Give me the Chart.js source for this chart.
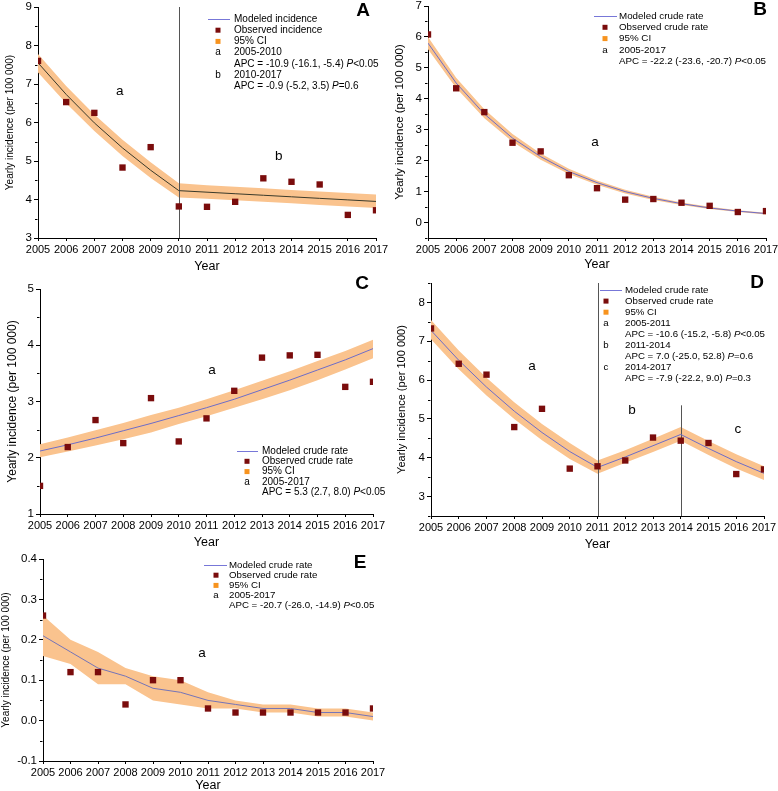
<!DOCTYPE html>
<html><head><meta charset="utf-8">
<script src="https://cdn.jsdelivr.net/npm/chart.js@4.4.1/dist/chart.umd.min.js"></script>
<style>
html,body{margin:0;padding:0;background:#fff;overflow:hidden;width:778px;height:791px;position:relative;}
canvas{position:absolute;}
</style></head><body>
<canvas id="cA"></canvas><canvas id="cB"></canvas><canvas id="cC"></canvas><canvas id="cD"></canvas><canvas id="cE"></canvas>
<script>
const years = [2005,2006,2007,2008,2009,2010,2011,2012,2013,2014,2015,2016,2017];

const obsA = [7.60,6.53,6.25,4.83,5.36,3.82,3.81,3.94,4.55,4.46,4.39,3.60,3.72];
const modA = [7.55,6.73,5.99,5.34,4.76,4.23,4.19,4.15,4.11,4.07,4.03,3.99,3.95];
const upA  = [7.78,6.95,6.21,5.55,4.97,4.42,4.37,4.33,4.29,4.25,4.21,4.17,4.13];
const loA  = [7.30,6.50,5.78,5.13,4.56,4.05,4.02,3.98,3.94,3.90,3.86,3.82,3.78];

const obsB = [6.08,4.34,3.57,2.58,2.30,1.53,1.11,0.74,0.76,0.64,0.54,0.34,0.37];
const modB = [5.80,4.51,3.51,2.73,2.13,1.65,1.29,1.00,0.78,0.61,0.47,0.37,0.29];
const upB  = [6.00,4.68,3.66,2.86,2.23,1.74,1.36,1.06,0.83,0.65,0.51,0.40,0.32];
const loB  = [5.60,4.35,3.37,2.61,2.03,1.57,1.22,0.94,0.73,0.57,0.44,0.34,0.26];

const obsC = [1.50,2.19,2.67,2.26,3.06,2.29,2.70,3.19,3.78,3.82,3.83,3.26,3.35];
const modC = [2.12,2.23,2.35,2.48,2.61,2.75,2.89,3.04,3.21,3.38,3.56,3.74,3.94];
const upC  = [2.24,2.36,2.49,2.62,2.76,2.89,3.04,3.20,3.37,3.54,3.72,3.90,4.10];
const loC  = [2.01,2.11,2.22,2.33,2.45,2.60,2.74,2.89,3.04,3.20,3.38,3.57,3.77];

const obsD = [7.33,6.42,6.14,4.79,5.26,3.72,3.78,3.93,4.52,4.44,4.38,3.58,3.70];
const modD = [7.28,6.51,5.82,5.20,4.65,4.16,3.75,4.02,4.31,4.60,4.24,3.90,3.60];
const upD  = [7.55,6.76,6.06,5.43,4.87,4.38,3.93,4.19,4.49,4.79,4.43,4.09,3.78];
const loD  = [7.05,6.28,5.60,5.00,4.45,3.97,3.59,3.87,4.15,4.44,4.07,3.72,3.43];

const obsE = [0.26,0.12,0.12,0.04,0.10,0.10,0.03,0.02,0.02,0.02,0.02,0.02,0.03];
const modE = [0.21,0.17,0.13,0.11,0.08,0.07,0.05,0.04,0.03,0.03,0.02,0.02,0.01];
const upE  = [0.26,0.20,0.17,0.13,0.11,0.10,0.07,0.05,0.04,0.04,0.03,0.03,0.02];
const loE  = [0.16,0.14,0.09,0.09,0.05,0.04,0.03,0.03,0.02,0.02,0.01,0.01,0.00];

const yTicksA = [3,4,5,6,7,8,9];
const yTicksB = [0,1,2,3,4,5,6,7];
const yTicksC = [1,2,3,4,5];
const yTicksD = [3,4,5,6,7,8];
const yTicksE = [-0.1,0.0,0.1,0.2,0.3,0.4];

const breaksA = [[2010,3,9]];
const breaksD = [[2011,2.5,8.5],[2014,2.5,5.35]];

const segLabelsA = [['a',2007.9,6.8],['b',2013.55,5.13]];
const segLabelsB = [['a',2010.93,2.6]];
const segLabelsC = [['a',2011.2,3.56]];
const segLabelsD = [['a',2008.64,6.36],['b',2012.24,5.23],['c',2016.06,4.74]];
const segLabelsE = [['a',2010.78,0.167]];

const legendIncidence = ['Modeled incidence','Observed incidence','95% CI'];
const legendCrude = ['Modeled crude rate','Observed crude rate','95% CI'];
const apcA = [['a','2005-2010','APC = -10.9 (-16.1, -5.4) ','<0.05'],['b','2010-2017','APC = -0.9 (-5.2, 3.5) ','=0.6']];
const apcB = [['a','2005-2017','APC = -22.2 (-23.6, -20.7) ','<0.05']];
const apcC = [['a','2005-2017','APC = 5.3 (2.7, 8.0) ','<0.05']];
const apcD = [['a','2005-2011','APC = -10.6 (-15.2, -5.8) ','<0.05'],['b','2011-2014','APC = 7.0 (-25.0, 52.8) ','=0.6'],['c','2014-2017','APC = -7.9 (-22.2, 9.0) ','=0.3']];
const apcE = [['a','2005-2017','APC = -20.7 (-26.0, -14.9) ','<0.05']];

const FAM = '"Liberation Sans", Arial, sans-serif';
const BAND = '#fac38e';
const OBS = '#7a0c0c';
const LEGLINE = '#7777d8';
const LEGORANGE = '#f7931e';

const panels = [
  {id:'cA', letter:'A', cv:{x:0,y:0,w:390,h:282}, area:{l:38,t:7,r:376,b:238}, ymin:3, ymax:9, yt:yTicksA, dec:0,
   obs:obsA, mod:modA, up:upA, lo:loA, line:'#3a3a2a', breaks:breaksA, seg:segLabelsA, leg:legendIncidence, apc:apcA,
   lg:{l0:208,l1:230,mx:218,tx:234,y0:19,dy:11.2,fs:10}, yfs:10, ytx:10, xty:267, letterPos:[363,10]},
  {id:'cB', letter:'B', cv:{x:390,y:0,w:388,h:282}, area:{l:428,t:6,r:766,b:238}, ymin:-0.5, ymax:7, yt:yTicksB, dec:0,
   obs:obsB, mod:modB, up:upB, lo:loB, line:'#6d6dc8', breaks:[], seg:segLabelsB, leg:legendCrude, apc:apcB,
   lg:{l0:594,l1:617,mx:605,tx:619,y0:16,dy:11.3,fs:9.8}, yfs:11.5, ytx:400, xty:265, letterPos:[760,9]},
  {id:'cC', letter:'C', cv:{x:0,y:275,w:390,h:282}, area:{l:40,t:289,r:373,b:514}, ymin:1, ymax:5, yt:yTicksC, dec:0,
   obs:obsC, mod:modC, up:upC, lo:loC, line:'#6d6dc8', breaks:[], seg:segLabelsC, leg:legendCrude, apc:apcC,
   lg:{l0:237,l1:258,mx:247,tx:262,y0:451,dy:10.3,fs:10}, yfs:12, ytx:13, xty:543, letterPos:[362,283]},
  {id:'cD', letter:'D', cv:{x:390,y:275,w:388,h:282}, area:{l:431,t:283,r:764,b:516}, ymin:2.5, ymax:8.5, yt:yTicksD, dec:0,
   obs:obsD, mod:modD, up:upD, lo:loD, line:'#6d6dc8', breaks:breaksD, seg:segLabelsD, leg:legendCrude, apc:apcD,
   lg:{l0:600,l1:622,mx:606,tx:625,y0:290,dy:11.1,fs:9.7}, yfs:11, ytx:402, xty:545, letterPos:[757,282]},
  {id:'cE', letter:'E', cv:{x:0,y:545,w:390,h:256}, area:{l:43,t:559,r:373,b:761}, ymin:-0.1, ymax:0.4, yt:yTicksE, dec:1,
   obs:obsE, mod:modE, up:upE, lo:loE, line:'#7474b8', breaks:[], seg:segLabelsE, leg:legendCrude, apc:apcE,
   lg:{l0:204,l1:227,mx:216,tx:229,y0:565,dy:10.2,fs:9.7}, yfs:10, ytx:6, xty:786, letterPos:[360,562]}
];

function drawPanelExtras(chart, p, stage){
  const ctx = chart.ctx, xs = chart.scales.x, ys = chart.scales.y;
  if (stage === 'breaks'){
    ctx.save(); ctx.strokeStyle = '#555'; ctx.lineWidth = 1;
    p.breaks.forEach(b=>{
      const x = Math.round(xs.getPixelForValue(b[0])) + 0.5;
      ctx.beginPath(); ctx.moveTo(x, ys.getPixelForValue(b[2])); ctx.lineTo(x, ys.getPixelForValue(b[1])); ctx.stroke();
    });
    ctx.restore();
    return;
  }
  ctx.save();
  ctx.strokeStyle = '#000'; ctx.lineWidth = 1;
  const step = p.yt[1]-p.yt[0];
  const ax = Math.round(chart.chartArea.left) - 0.5;
  for (let i=0;i<p.yt.length+1;i++){
    const v = (i===0 ? p.yt[0]-step/2 : p.yt[i-1]+step/2);
    if (v < p.ymin-1e-9 || v > p.ymax+1e-9) continue;
    const y = Math.round(ys.getPixelForValue(v)) + 0.5;
    ctx.beginPath(); ctx.moveTo(ax, y); ctx.lineTo(ax-2.5, y); ctx.stroke();
  }
  ctx.fillStyle = '#000'; ctx.font = '13.5px ' + FAM; ctx.textAlign = 'center'; ctx.textBaseline = 'middle';
  p.seg.forEach(s=>{ ctx.fillText(s[0], xs.getPixelForValue(s[1]), ys.getPixelForValue(s[2])); });
  ctx.font = 'bold 19px ' + FAM;
  ctx.fillText(p.letter, p.letterPos[0]-p.cv.x, p.letterPos[1]-p.cv.y + 1);
  const L = p.lg, ox = p.cv.x, oy = p.cv.y;
  ctx.textAlign = 'left'; ctx.textBaseline = 'middle';
  const f = L.fs + 'px ' + FAM, fi = 'italic ' + L.fs + 'px ' + FAM;
  let y = L.y0 - oy;
  ctx.strokeStyle = LEGLINE; ctx.lineWidth = 1;
  ctx.beginPath(); ctx.moveTo(L.l0-ox, Math.round(y)+0.5); ctx.lineTo(L.l1-ox, Math.round(y)+0.5); ctx.stroke();
  ctx.font = f; ctx.fillStyle = '#000';
  ctx.fillText(p.leg[0], L.tx-ox, y);
  y += L.dy;
  ctx.fillStyle = OBS; ctx.fillRect(L.mx-ox-2.5, y-2.5, 5, 5);
  ctx.fillStyle = '#000'; ctx.fillText(p.leg[1], L.tx-ox, y);
  y += L.dy;
  ctx.fillStyle = LEGORANGE; ctx.fillRect(L.mx-ox-2.5, y-2.5, 5, 5);
  ctx.fillStyle = '#000'; ctx.fillText(p.leg[2], L.tx-ox, y);
  p.apc.forEach(a=>{
    y += L.dy;
    ctx.font = f; ctx.textAlign = 'center'; ctx.fillText(a[0], L.mx-ox, y);
    ctx.textAlign = 'left'; ctx.fillText(a[1], L.tx-ox, y);
    y += L.dy;
    let x = L.tx-ox;
    ctx.fillText(a[2], x, y); x += ctx.measureText(a[2]).width;
    ctx.font = fi; ctx.fillText('P', x, y); x += ctx.measureText('P').width;
    ctx.font = f; ctx.fillText(a[3], x, y);
  });
  ctx.restore();
}

panels.forEach(p=>{
  const cv = document.getElementById(p.id);
  cv.width = p.cv.w; cv.height = p.cv.h;
  cv.style.left = p.cv.x + 'px'; cv.style.top = p.cv.y + 'px';
  cv.style.width = p.cv.w + 'px'; cv.style.height = p.cv.h + 'px';
  const yW = p.area.l - p.cv.x;
  const xH = p.cv.y + p.cv.h - p.area.b;
  const padTop = p.area.t - p.cv.y;
  const padRight = p.cv.x + p.cv.w - p.area.r;
  const xTitlePad = Math.max(0, (p.cv.y + p.cv.h - p.xty) - 7.5);
  const yTitlePad = Math.max(0, (p.ytx - p.cv.x) - p.yfs*1.2/2);
  const pts = arr => years.map((x,i)=>({x:x, y:arr[i]}));
  new Chart(cv, {
    type:'line',
    data:{datasets:[
      {label:'obs', data:pts(p.obs), showLine:false, pointStyle:'rect', pointRadius:4.5, pointHoverRadius:4.5,
       pointBackgroundColor:OBS, pointBorderColor:OBS, pointBorderWidth:0, borderColor:OBS, clip:0},
      {label:'model', data:pts(p.mod), borderColor:p.line, borderWidth:1, pointRadius:0, fill:false, tension:0},
      {label:'upper', data:pts(p.up), borderColor:'rgba(0,0,0,0)', borderWidth:0, pointRadius:0, fill:'+1', backgroundColor:BAND, tension:0},
      {label:'lower', data:pts(p.lo), borderColor:'rgba(0,0,0,0)', borderWidth:0, pointRadius:0, fill:false, tension:0}
    ]},
    options:{
      responsive:false, animation:false, devicePixelRatio:1, events:[],
      layout:{padding:{left:0, top:padTop, right:padRight, bottom:0}},
      plugins:{legend:{display:false}, tooltip:{enabled:false}},
      scales:{
        x:{type:'linear', min:2005, max:2017,
          afterBuildTicks:s=>{ s.ticks = years.map(v=>({value:v})); },
          afterFit:s=>{ s.height = xH; s.paddingLeft = 0; s.paddingRight = 0; },
          ticks:{font:{family:FAM,size:11}, color:'#000', padding:2, maxRotation:0, minRotation:0, autoSkip:false, callback:v=>String(v)},
          grid:{display:true, drawOnChartArea:false, drawTicks:true, tickLength:3, color:'#000', lineWidth:1},
          border:{display:true, color:'#000', width:1},
          title:{display:true, text:'Year', font:{family:FAM,size:12.5}, color:'#000', padding:{top:0,bottom:xTitlePad}}
        },
        y:{type:'linear', min:p.ymin, max:p.ymax,
          afterBuildTicks:s=>{ s.ticks = p.yt.map(v=>({value:v})); },
          afterFit:s=>{ s.width = yW; s.paddingTop = 0; s.paddingBottom = 0; },
          ticks:{font:{family:FAM,size:11.5}, color:'#000', padding:2, callback:v=>Number(v).toFixed(p.dec)},
          grid:{display:true, drawOnChartArea:false, drawTicks:true, tickLength:4, color:'#000', lineWidth:1},
          border:{display:true, color:'#000', width:1},
          title:{display:true, text:'Yearly incidence (per 100 000)', font:{family:FAM,size:p.yfs}, color:'#000', padding:{top:yTitlePad,bottom:0}}
        }
      }
    },
    plugins:[{
      id:'extras'+p.id,
      afterDatasetDraw(chart, args){ if (args.index === 2) drawPanelExtras(chart, p, 'breaks'); },
      afterDraw(chart){ drawPanelExtras(chart, p, 'all'); }
    }]
  });
});
</script>
</body></html>
